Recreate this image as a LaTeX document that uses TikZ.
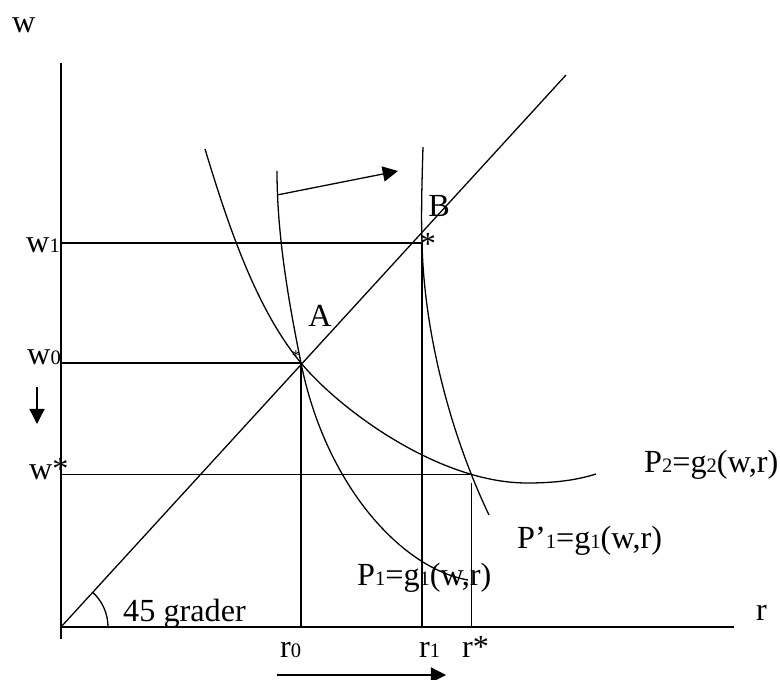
\documentclass[tikz,border=0pt]{standalone}
\usepackage{fontspec}
\setmainfont{Liberation Serif}
\usetikzlibrary{arrows.meta, intersections}
\newcommand{\lo}[1]{{\fontsize{17.5}{17.5}\selectfont #1}}

\begin{document}
\begin{tikzpicture}[
      x=0.03cm, y=-0.03cm,
      every node/.style={font=\fontsize{27.5}{30}\selectfont, inner sep=0pt},
      line/.style={line width=1.1pt},
      curve/.style={line width=1.1pt},
      arrow/.style={line width=1.1pt, -{Triangle[length=13pt, width=13pt]}},
    ]
    \useasboundingbox (0,0) rectangle (780,680);

    % Punkter
    \coordinate (O) at (61,627);
    \coordinate (A) at (301,363);
    \coordinate (B) at (422,243);
    \coordinate (wtop) at (61,63);
    \coordinate (wbot) at (61,639);
    \coordinate (rend) at (734,627);
    \coordinate (diag) at (566,75);

    % Akser og 45-graders linje
    \draw[line] (wtop) -- (wbot);
    \draw[line] (O) -- (rend);
    \draw[line] (O) -- (diag);
    \draw[line] (O) ++(47,0) arc[start angle=0, end angle=-47.5, radius=47];

    % Kurver
    \draw[curve, name path=p2] (205,149) .. controls (228,225) and (256,309) .. (A)
      .. controls (341,411) and (440,483) .. (527,483)
      .. controls (560,483) and (580,479) .. (596,474);
    \draw[curve] (277,171) .. controls (277,241) and (291,313) .. (A)
      .. controls (325,483) and (400,568) .. (468,580);
    \draw[curve, name path=p1b] (423,147) .. controls (422,180) and (421,215) .. (B)
      .. controls (424,330) and (449,431) .. (489,515);
    \path[name intersections={of=p2 and p1b, by=C}];

    % Hjelpelinjer
    \draw[line] (O |- B) -- (B);
    \draw[line] (O |- A) -- (A);
    \draw[line] (O |- C) -- (C);
    \draw[line] (A) -- (A |- O);
    \draw[line] (B) -- (B |- O);
    \draw[line, shorten <=7pt] (C) -- (C |- O);

    % Piler
    \coordinate (s1) at (277,195);
    \coordinate (t1) at (398,171);
    \draw[arrow] (s1) -- (t1);
    \coordinate (s2) at (37,387);
    \coordinate (t2) at (37,424);
    \draw[arrow] (s2) -- (t2);
    \coordinate (s3) at (277,675);
    \coordinate (t3) at (446,675);
    \draw[arrow] (s3) -- (t3);

    % Tekst
    \node[anchor=base west] (wlab) at (12,33) {w};
    \node[anchor=base east] (w1lab) at (60,253) {w\lo{1}};
    \node[anchor=base east] (w0lab) at (61,365) {w\lo{0}};
    \node[anchor=base west] (wslab) at (29,479) {w*};
    \node[anchor=base west] (rlab) at (756,620) {r};
    \node[anchor=base west] (r0lab) at (280,657) {r\lo{0}};
    \node[anchor=base west] (r1lab) at (419,657) {r\lo{1}};
    \node[anchor=base west] (rslab) at (462,657) {r*};
    \node[anchor=base west] (grad) at (123,621) {45 grader};
    \node[anchor=base] (Alab) at (320,327) {A};
    \node[anchor=base] (Blab) at (439,217) {B};
    \node (Astar) at (296,356) {\fontsize{14}{14}\selectfont *};
    \node (Bstar) at (428,244) {*};
    \node[anchor=base west] (P2lab) at (644,472) {P\lo{2}=g\lo{2}(w,r)};
    \node[anchor=base west] (P1plab) at (517,548) {P’\lo{1}=g\lo{1}(w,r)};
    \node[anchor=base west] (P1lab) at (357,585) {P\lo{1}=g\lo{1}(w,r)};

  \end{tikzpicture}
\end{document}
